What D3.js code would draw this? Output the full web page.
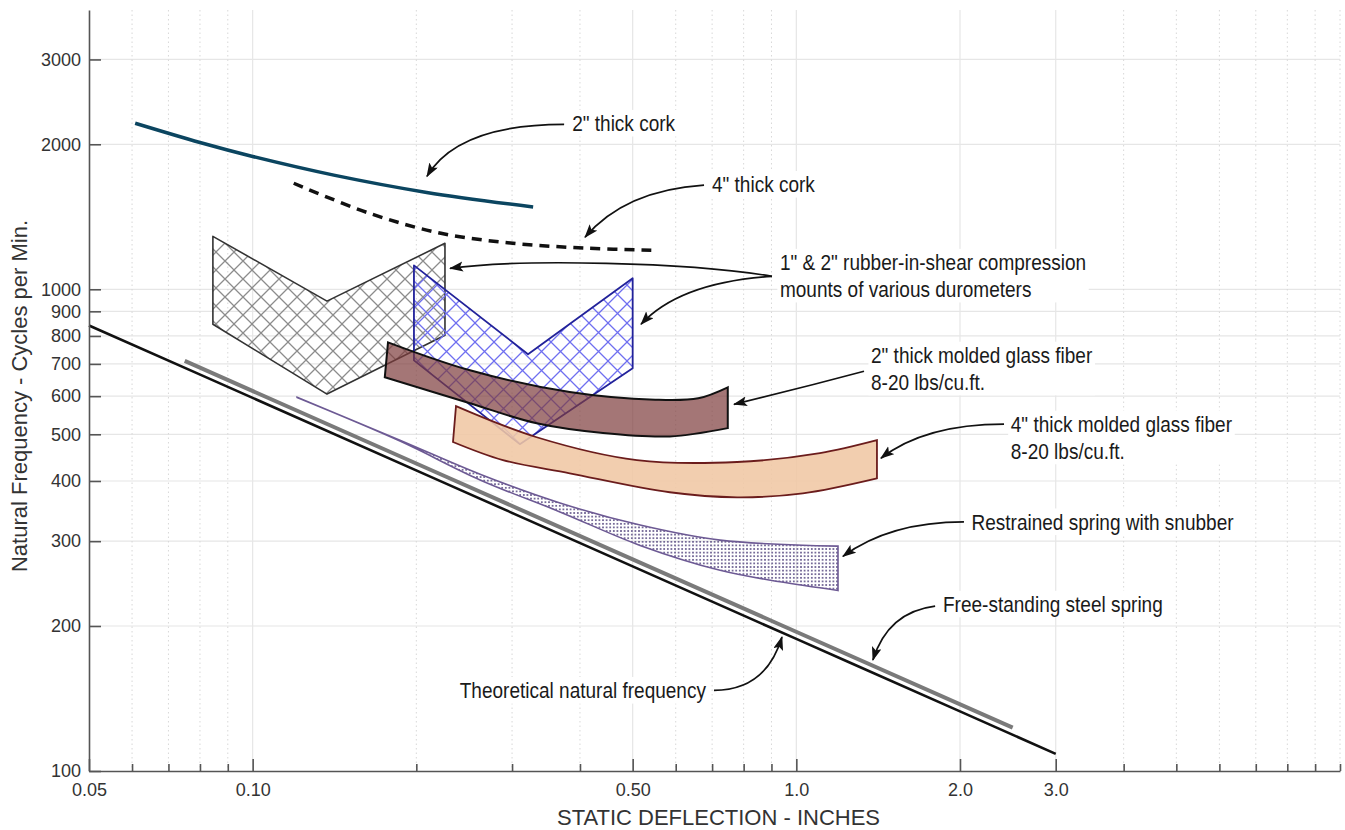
<!DOCTYPE html>
<html>
<head>
<meta charset="utf-8">
<script src="https://cdn.jsdelivr.net/npm/d3@7"></script>
<style>
  html, body { margin: 0; padding: 0; background: #fff; }
  svg { display: block; }
</style>
</head>
<body>
<svg id="chart" width="1345" height="830"></svg>
<script>
// ---- Axes: static deflection (in.) vs natural frequency (cycles/min), log-log ----
const xDomain = [0.05, 10];
const yDomain = [100, 3800];
const xMajorTicks = [0.05, 0.10, 0.50, 1.0, 2.0, 3.0];
const xMajorLabels = ["0.05", "0.10", "0.50", "1.0", "2.0", "3.0"];
const xMinorTicks = [0.06, 0.07, 0.08, 0.09, 0.2, 0.3, 0.4, 0.6, 0.7, 0.8, 0.9, 4, 5, 6, 7, 8, 9, 10];
const yTicks = [100, 200, 300, 400, 500, 600, 700, 800, 900, 1000, 2000, 3000];

// ---- Curves: [deflection, frequency] ----
const theoretical = [[0.05, 841], [0.1, 595], [0.5, 266], [1.0, 188], [2.0, 133], [3.0, 108.5]];
const steelSpring = [[0.075, 710], [0.5, 275], [2.5, 123]];
const cork2 = [[0.0608, 2211], [0.08, 2017], [0.1, 1887], [0.141, 1726], [0.209, 1589], [0.328, 1482]];
const cork4 = [[0.119, 1660], [0.164, 1438], [0.222, 1307], [0.301, 1246], [0.407, 1218], [0.552, 1205]];

// ---- Regions ----
const rubberSmall = [[0.0845, 1288], [0.137, 945], [0.2258, 1246], [0.2258, 803], [0.137, 606], [0.0845, 846]];
const rubberLarge = [[0.198, 1121], [0.321, 733], [0.5, 1054], [0.5, 686], [0.31, 477], [0.198, 712]];
const glass2Top = [[0.1774, 776], [0.251, 679], [0.383, 612], [0.55, 590], [0.66, 594], [0.748, 626]];
const glass2Bottom = [[0.175, 657], [0.251, 580], [0.333, 527], [0.441, 503], [0.585, 495], [0.748, 515]];
const glass4Top = [[0.2366, 572], [0.333, 493], [0.509, 442], [0.778, 438], [1.105, 457], [1.407, 486]];
const glass4Bottom = [[0.2336, 482], [0.2886, 442], [0.383, 415], [0.585, 379], [0.778, 370], [1.028, 377], [1.407, 405]];
const snubTop = [[0.1207, 597], [0.1866, 486], [0.262, 413], [0.3675, 360], [0.516, 324], [0.724, 301.5], [1.193, 293]];
const snubBottom = [[0.1207, 596], [0.1866, 484], [0.262, 402], [0.3675, 345], [0.516, 294], [0.724, 261], [0.933, 247], [1.193, 237]];

// ---- Callouts (positions in data units) ----
const callouts = [
  { lines: ['2" thick cork'], at: [0.387, 2211], anchor: "start",
    arrows: [{ from: [0.374, 2199], ctrl: [[0.2386, 2199]], to: [0.2092, 1716] }] },
  { lines: ['4" thick cork'], at: [0.6995, 1651], anchor: "start",
    arrows: [{ from: [0.6764, 1645], ctrl: [[0.484, 1605]], to: [0.4086, 1282] }] },
  { lines: ['1" & 2" rubber-in-shear compression', 'mounts of various durometers'], at: [0.933, 1138], anchor: "start",
    arrows: [
      { from: [0.902, 1064], ctrl: [[0.6375, 1138], [0.310, 1159]], to: [0.2307, 1105] },
      { from: [0.902, 1064], ctrl: [[0.611, 1034]], to: [0.518, 846] }
    ] },
  { lines: ['2" thick molded glass fiber', '8-20 lbs/cu.ft.'], at: [1.372, 730], anchor: "start",
    arrows: [{ from: [1.332, 676], ctrl: [[1.015, 623]], to: [0.768, 577] }] },
  { lines: ['4" thick molded glass fiber', '8-20 lbs/cu.ft.'], at: [2.48, 525], anchor: "start",
    arrows: [{ from: [2.41, 525], ctrl: [[1.725, 525]], to: [1.431, 446] }] },
  { lines: ['Restrained spring with snubber'], at: [2.10, 329], anchor: "start",
    arrows: [{ from: [2.034, 329], ctrl: [[1.487, 329]], to: [1.218, 279] }] },
  { lines: ['Free-standing steel spring'], at: [1.861, 222], anchor: "start",
    arrows: [{ from: [1.80, 220], ctrl: [[1.474, 214]], to: [1.383, 170] }] },
  { lines: ['Theoretical natural frequency'], at: [0.682, 147], anchor: "end",
    arrows: [{ from: [0.7055, 147], ctrl: [[0.8795, 147]], to: [0.941, 189.7] }] }
];

// ---- Layout ----
const plot = { left: 89, right: 1340, top: 10, bottom: 771 };
const svg = d3.select("#chart");
const x = d3.scaleLog().domain(xDomain).range([plot.left, plot.right]);
const y = d3.scaleLog().domain(yDomain).range([plot.bottom, plot.top]);

const tickFont = "'Liberation Sans', Arial, sans-serif";
const noteFont = "'Liberation Sans', Arial, sans-serif";
const noteSqueeze = 0.865;   // condensed lettering for callouts

// patterns
const defs = svg.append("defs");
function crossHatch(id, color, size) {
  const p = defs.append("pattern").attr("id", id)
    .attr("patternUnits", "userSpaceOnUse").attr("width", size).attr("height", size);
  p.append("path")
    .attr("d", `M-2,-2L${size + 2},${size + 2}M${size + 2},-2L-2,${size + 2}`)
    .attr("stroke", color).attr("stroke-width", 1.3).attr("fill", "none");
}
crossHatch("hatchGray", "#8c8c8c", 18);
crossHatch("hatchBlue", "#6f6ff0", 19);
const dots = defs.append("pattern").attr("id", "dots")
  .attr("patternUnits", "userSpaceOnUse").attr("width", 3.6).attr("height", 3.6);
dots.append("circle").attr("cx", 1.8).attr("cy", 1.8).attr("r", 0.95).attr("fill", "#54467f");
defs.append("marker").attr("id", "arrowHead")
  .attr("markerUnits", "userSpaceOnUse").attr("markerWidth", 16).attr("markerHeight", 12)
  .attr("refX", 13).attr("refY", 5).attr("orient", "auto")
  .append("path").attr("d", "M0,0L14,5L0,10L3,5Z").attr("fill", "#111");

// grid
const grid = svg.append("g");
grid.selectAll("line.h").data(yTicks.filter(v => v > 100)).join("line")
  .attr("x1", plot.left).attr("x2", plot.right)
  .attr("y1", d => y(d)).attr("y2", d => y(d))
  .attr("stroke", "#e6e6e6").attr("stroke-width", 1.2);
grid.selectAll("line.vmaj").data(xMajorTicks.filter(v => v > 0.05)).join("line")
  .attr("x1", d => x(d)).attr("x2", d => x(d))
  .attr("y1", plot.top).attr("y2", plot.bottom)
  .attr("stroke", "#e6e6e6").attr("stroke-width", 1.2);
grid.append("g").selectAll("line").data(xMinorTicks).join("line")
  .attr("x1", d => x(d)).attr("x2", d => x(d))
  .attr("y1", plot.top).attr("y2", plot.bottom)
  .attr("stroke", "#d8d8d8").attr("stroke-width", 1).attr("stroke-dasharray", "1.5,3");

// generators
const px = d => x(d[0]), py = d => y(d[1]);
const smooth = d3.line().x(px).y(py).curve(d3.curveCatmullRom.alpha(0.5));
const straight = d3.line().x(px).y(py).curve(d3.curveLinearClosed);
function band(top, bottom) {
  const a = smooth(top);
  const b = smooth(bottom.slice().reverse());
  return a + "L" + b.slice(1) + "Z";
}

// spring lines
svg.append("path").attr("d", smooth(theoretical))
  .attr("fill", "none").attr("stroke", "#111").attr("stroke-width", 2.6);
svg.append("path").attr("d", smooth(steelSpring))
  .attr("fill", "none").attr("stroke", "#7a7a7a").attr("stroke-width", 4);

// rubber-in-shear mounts
svg.append("path").attr("d", straight(rubberSmall))
  .attr("fill", "url(#hatchGray)").attr("stroke", "#333").attr("stroke-width", 1.6)
  .attr("stroke-linejoin", "round");
svg.append("path").attr("d", straight(rubberLarge))
  .attr("fill", "url(#hatchBlue)").attr("stroke", "#22229a").attr("stroke-width", 1.8)
  .attr("stroke-linejoin", "round");

// molded glass fiber bands
svg.append("path").attr("d", band(glass2Top, glass2Bottom))
  .attr("fill", "#7e3c3c").attr("fill-opacity", 0.7)
  .attr("stroke", "#111").attr("stroke-width", 2);
svg.append("path").attr("d", band(glass4Top, glass4Bottom))
  .attr("fill", "#f0c7a4").attr("fill-opacity", 0.88)
  .attr("stroke", "#6b1c1c").attr("stroke-width", 1.8);

// restrained spring with snubber
svg.append("path").attr("d", band(snubTop, snubBottom))
  .attr("fill", "url(#dots)").attr("stroke", "#6d5a94").attr("stroke-width", 1.6);

// cork
svg.append("path").attr("d", smooth(cork2))
  .attr("fill", "none").attr("stroke", "#0b4560").attr("stroke-width", 3.5);
svg.append("path").attr("d", smooth(cork4))
  .attr("fill", "none").attr("stroke", "#111").attr("stroke-width", 3.5)
  .attr("stroke-dasharray", "10,7");

// callouts
const notes = svg.append("g");
callouts.forEach(c => {
  const g = notes.append("g");
  const tx = x(c.at[0]), ty = y(c.at[1]);
  const tg = g.append("g").attr("transform", `translate(${tx},${ty}) scale(${noteSqueeze},1)`);
  const t = tg.append("text")
    .attr("x", 0).attr("y", 0)
    .attr("text-anchor", c.anchor)
    .attr("font-family", noteFont).attr("font-size", 22).attr("fill", "#1a1a1a");
  c.lines.forEach((s, i) => {
    t.append("tspan").attr("x", 0).attr("dy", i === 0 ? "0.36em" : 27).text(s);
  });
  const bb = t.node().getBBox();
  tg.insert("rect", "text").attr("x", bb.x - 3).attr("y", bb.y - 1)
    .attr("width", bb.width + 6).attr("height", bb.height + 2).attr("fill", "#fff");
  c.arrows.forEach(a => {
    const p0 = [x(a.from[0]), y(a.from[1])];
    const p1 = [x(a.to[0]), y(a.to[1])];
    const cs = a.ctrl.map(k => [x(k[0]), y(k[1])]);
    const d = cs.length === 1
      ? `M${p0}Q${cs[0]} ${p1}`
      : `M${p0}C${cs[0]} ${cs[1]} ${p1}`;
    g.append("path").attr("d", d).attr("fill", "none")
      .attr("stroke", "#111").attr("stroke-width", 1.7)
      .attr("marker-end", "url(#arrowHead)");
  });
});

// axes
const yAxis = svg.append("g").attr("transform", `translate(${plot.left},0)`)
  .call(d3.axisLeft(y).tickValues(yTicks).tickFormat(d3.format("d"))
    .tickSize(-12).tickPadding(8).tickSizeOuter(0));
const xAxis = svg.append("g").attr("transform", `translate(0,${plot.bottom})`)
  .call(d3.axisBottom(x).tickValues(xMajorTicks).tickFormat((d, i) => xMajorLabels[i])
    .tickSize(-12).tickPadding(12).tickSizeOuter(0));
const xMinor = svg.append("g").attr("transform", `translate(0,${plot.bottom})`)
  .call(d3.axisBottom(x).tickValues(xMinorTicks).tickFormat("").tickSize(-7).tickSizeOuter(0));
xMinor.select(".domain").remove();
[yAxis, xAxis, xMinor].forEach(a => {
  a.selectAll(".domain, .tick line").attr("stroke", "#555").attr("stroke-width", 1.6);
  a.selectAll("text").attr("font-family", tickFont).attr("font-size", 18).attr("fill", "#333");
});

// axis titles
svg.append("text").attr("x", (plot.left + plot.right) / 2 + 4).attr("y", 825)
  .attr("text-anchor", "middle").attr("font-family", tickFont).attr("font-size", 22)
  .attr("fill", "#333").text("STATIC DEFLECTION - INCHES");
svg.append("text").attr("transform", "translate(27,396) rotate(-90)")
  .attr("text-anchor", "middle").attr("font-family", tickFont).attr("font-size", 22)
  .attr("fill", "#333").text("Natural Frequency - Cycles per Min.");
</script>
</body>
</html>
